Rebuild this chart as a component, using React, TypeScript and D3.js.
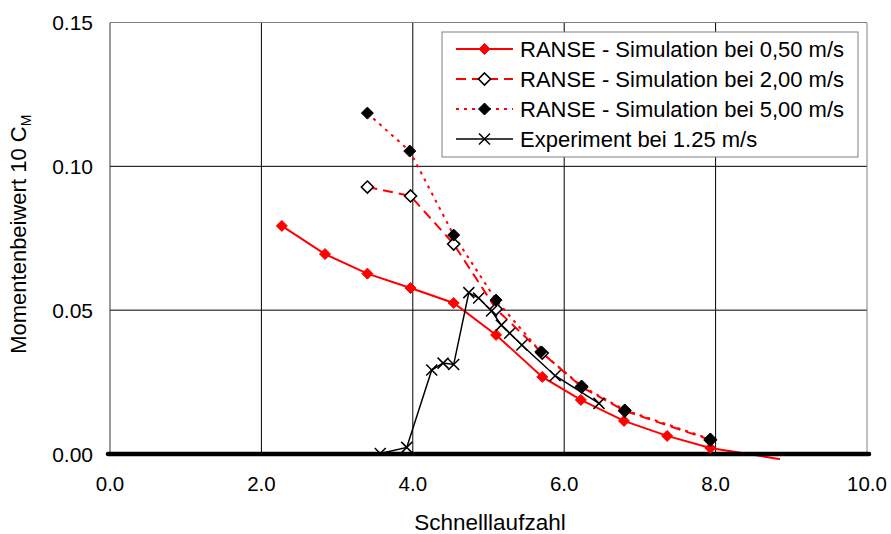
import React from "react";
import * as d3 from "d3";

const xTicks = [0, 2, 4, 6, 8, 10];
const yTicks = [0, 0.05, 0.1, 0.15];

const lambda050 = [2.27, 2.84, 3.40, 3.97, 4.54, 5.10, 5.71, 6.22, 6.79, 7.36, 7.93, 8.85];
const cm050 = [0.0793, 0.0695, 0.0627, 0.0577, 0.0525, 0.0414, 0.0268, 0.0188, 0.0115, 0.0063, 0.0021, -0.0018];

const lambda200 = [3.40, 3.97, 4.54, 5.10, 5.71, 6.23, 6.80, 7.93];
const cm200 = [0.0928, 0.0897, 0.0730, 0.0504, 0.0351, 0.0233, 0.0150, 0.0049];

const lambda500 = [3.40, 3.96, 4.54, 5.10, 5.69, 6.23, 6.80, 7.93];
const cm500 = [0.1185, 0.1053, 0.0761, 0.0535, 0.0355, 0.0236, 0.0153, 0.0052];

const lambdaExp = [3.57, 3.92, 4.25, 4.40, 4.54, 4.74, 4.87, 5.04, 5.17, 5.28, 5.44, 5.88, 6.46];
const cmExp = [0.0002, 0.0023, 0.0292, 0.0316, 0.0311, 0.0561, 0.0542, 0.0497, 0.0448, 0.0420, 0.0379, 0.0272, 0.0176];

const legendLabels = [
  "RANSE - Simulation bei 0,50 m/s",
  "RANSE - Simulation bei 2,00 m/s",
  "RANSE - Simulation bei 5,00 m/s",
  "Experiment bei 1.25 m/s",
];

const W = 891;
const H = 534;
const FONT = "'Liberation Sans', Arial, Helvetica, sans-serif";

type Series = {
  xs: number[];
  ys: number[];
  color: string;
  dash: string | undefined;
  width: number;
  marker: "diamondRed" | "diamondOpen" | "diamondBlack" | "cross";
};

const series: Series[] = [
  { xs: lambda050, ys: cm050, color: "#ff0000", dash: undefined, width: 2, marker: "diamondRed" },
  { xs: lambda200, ys: cm200, color: "#ff0000", dash: "10,6", width: 2, marker: "diamondOpen" },
  { xs: lambda500, ys: cm500, color: "#ff0000", dash: "3,5", width: 2, marker: "diamondBlack" },
  { xs: lambdaExp, ys: cmExp, color: "#000000", dash: undefined, width: 1.5, marker: "cross" },
];

function Marker({ kind, x, y }: { kind: Series["marker"]; x: number; y: number }) {
  if (kind === "cross") {
    const s = 5.5;
    return (
      <path
        d={`M${x - s},${y - s}L${x + s},${y + s}M${x - s},${y + s}L${x + s},${y - s}`}
        stroke="#000"
        strokeWidth={1.5}
        fill="none"
      />
    );
  }
  const s = kind === "diamondRed" ? 5.5 : 6;
  const d = `M${x},${y - s}L${x + s},${y}L${x},${y + s}L${x - s},${y}Z`;
  if (kind === "diamondRed") return <path d={d} fill="#ff0000" stroke="#ff0000" strokeWidth={1} />;
  if (kind === "diamondOpen") return <path d={d} fill="#fff" stroke="#000" strokeWidth={1.6} />;
  return <path d={d} fill="#000" stroke="#000" strokeWidth={1} />;
}

export default function App() {
  const x = d3.scaleLinear().domain([0, 10]).range([110, 867]);
  const y = d3.scaleLinear().domain([0, 0.15]).range([454, 22.5]);
  const line = d3
    .line<[number, number]>()
    .x((d) => x(d[0]))
    .y((d) => y(d[1]));

  const left = x(0);
  const right = x(10);
  const top = y(0.15);
  const bottom = y(0);

  const legX = 442;
  const legY = 32;
  const legW = 416;
  const legH = 125;
  const rowGap = 30;

  return (
    <svg
      width={W}
      height={H}
      style={{ position: "absolute", left: 0, top: 0, background: "#fff" }}
      fontFamily={FONT}
    >
      <defs>
        <clipPath id="lineClip">
          <rect x={left} y={top} width={right - left} height={bottom - top + 6} />
        </clipPath>
        <clipPath id="markClip">
          <rect x={left - 8} y={top - 8} width={right - left + 16} height={bottom - top + 10} />
        </clipPath>
      </defs>
      <rect x={0} y={0} width={W} height={H} fill="#fff" />

      {xTicks.slice(1, -1).map((t) => (
        <line key={"gx" + t} x1={x(t)} x2={x(t)} y1={top} y2={bottom} stroke="#000" strokeWidth={1} />
      ))}
      {yTicks.slice(1, -1).map((t) => (
        <line key={"gy" + t} x1={left} x2={right} y1={y(t)} y2={y(t)} stroke="#000" strokeWidth={1} />
      ))}
      <line x1={left} x2={right} y1={top} y2={top} stroke="#808080" strokeWidth={1} />
      <line x1={right} x2={right} y1={top} y2={bottom} stroke="#808080" strokeWidth={1} />
      <line x1={left} x2={left} y1={top} y2={bottom} stroke="#333" strokeWidth={1} />

      <g clipPath="url(#lineClip)">
        {series.map((s, i) => (
          <path
            key={"l" + i}
            d={line(s.xs.map((v, j) => [v, s.ys[j]] as [number, number])) || ""}
            fill="none"
            stroke={s.color}
            strokeWidth={s.width}
            strokeDasharray={s.dash}
          />
        ))}
      </g>
      <line x1={left - 2} x2={right + 2} y1={bottom} y2={bottom} stroke="#000" strokeWidth={4.5} strokeLinecap="round" />
      <g clipPath="url(#markClip)">
        {series.map((s, i) =>
          s.xs.map((v, j) =>
            s.ys[j] >= 0 ? <Marker key={`m${i}-${j}`} kind={s.marker} x={x(v)} y={y(s.ys[j])} /> : null
          )
        )}
      </g>

      {xTicks.map((t) => (
        <text key={"xt" + t} x={x(t)} y={491} textAnchor="middle" fontSize={20.5} fill="#000">
          {d3.format(".1f")(t)}
        </text>
      ))}
      {yTicks.map((t) => (
        <text key={"yt" + t} x={93} y={y(t) + 7.5} textAnchor="end" fontSize={21} fill="#000">
          {d3.format(".2f")(t)}
        </text>
      ))}

      <text x={490} y={530} textAnchor="middle" fontSize={22.5} fill="#000">
        Schnelllaufzahl
      </text>
      <text transform={`translate(26,${(top + bottom) / 2 - 4}) rotate(-90)`} textAnchor="middle" fontSize={22} fill="#000">
        Momentenbeiwert 10 C<tspan fontSize={14} dy={5}>M</tspan>
      </text>

      <rect x={legX} y={legY} width={legW} height={legH} fill="#fff" stroke="#808080" strokeWidth={1} />
      {series.map((s, i) => {
        const cy = legY + 17 + i * rowGap;
        const x1 = 456;
        const x2 = 513;
        return (
          <g key={"lg" + i}>
            <line x1={x1} x2={x2} y1={cy} y2={cy} stroke={s.color} strokeWidth={s.width} strokeDasharray={s.dash} />
            <Marker kind={s.marker} x={(x1 + x2) / 2} y={cy} />
            <text x={520} y={cy + 7.5} fontSize={22} fill="#000">
              {legendLabels[i]}
            </text>
          </g>
        );
      })}
    </svg>
  );
}
